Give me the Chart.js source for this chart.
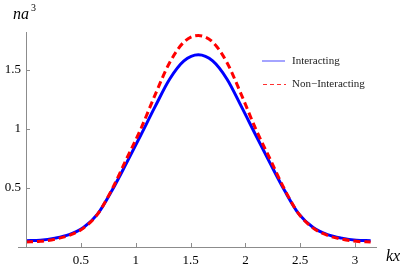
<!DOCTYPE html>
<html>
<head>
<meta charset="utf-8">
<script src="https://cdn.jsdelivr.net/npm/chart.js@4"></script>
<style>
  html, body { margin: 0; padding: 0; background: #fff; }
  #wrap { width: 403px; height: 269px; position: relative; }
</style>
</head>
<body>
<div id="wrap"><canvas id="chart" width="403" height="269"></canvas></div>
<script>
// kx sample positions (0 .. pi)
const kx = [0, 0.131, 0.262, 0.393, 0.524, 0.654, 0.785, 0.916, 1.047, 1.178, 1.309, 1.440, 1.571,
            1.702, 1.833, 1.963, 2.094, 2.225, 2.356, 2.487, 2.618, 2.749, 2.880, 3.011, 3.142];

// n a^3
const interacting = [0.053, 0.058, 0.075, 0.105, 0.165, 0.28, 0.48, 0.71, 0.948, 1.19, 1.42, 1.575, 1.627,
                     1.575, 1.42, 1.19, 0.948, 0.71, 0.48, 0.28, 0.165, 0.105, 0.075, 0.058, 0.053];
const nonInteracting = [0.042, 0.048, 0.066, 0.098, 0.16, 0.28, 0.49, 0.745, 1.0, 1.29, 1.56, 1.735, 1.79,
                        1.735, 1.56, 1.29, 1.0, 0.745, 0.49, 0.28, 0.16, 0.098, 0.066, 0.048, 0.042];

const xTicks = [0.5, 1, 1.5, 2, 2.5, 3];
const yTicks = [0.5, 1, 1.5];
const seriesNames = ['Interacting', 'Non\u2212Interacting'];

const serif = '"Liberation Serif", "DejaVu Serif", serif';
const toPts = ys => kx.map((x, i) => ({ x: x, y: ys[i] }));

// Mathematica-style axes, labels and legend
const axesPlugin = {
    id: 'axesPlugin',
    afterDraw(chart) {
        const ctx = chart.ctx;
        const xs = chart.scales.x, ys = chart.scales.y;
        const x0 = xs.getPixelForValue(0), y0 = ys.getPixelForValue(0);
        const top = chart.chartArea.top, right = chart.chartArea.right;
        ctx.save();
        ctx.strokeStyle = '#8c8c8c';
        ctx.lineWidth = 1;
        ctx.beginPath();
        ctx.moveTo(18, Math.round(y0) + 0.5); ctx.lineTo(right, Math.round(y0) + 0.5);
        ctx.moveTo(Math.round(x0) + 0.5, y0); ctx.lineTo(Math.round(x0) + 0.5, top);
        xTicks.forEach(v => {
            const p = Math.round(xs.getPixelForValue(v)) + 0.5;
            ctx.moveTo(p, y0); ctx.lineTo(p, y0 - 4);
        });
        yTicks.forEach(v => {
            const p = Math.round(ys.getPixelForValue(v)) + 0.5;
            ctx.moveTo(x0, p); ctx.lineTo(x0 + 4, p);
        });
        ctx.stroke();

        // axis labels
        ctx.fillStyle = '#000';
        ctx.textBaseline = 'alphabetic';
        ctx.font = 'italic 16px ' + serif;
        ctx.fillText('na', 13, 19);
        ctx.font = '10px ' + serif;
        ctx.fillText('3', 31, 11);
        ctx.font = 'italic 16px ' + serif;
        ctx.fillText('kx', 386, 261);

        // legend
        ctx.lineWidth = 2;
        ctx.strokeStyle = 'rgba(90,90,255,0.55)';
        ctx.beginPath(); ctx.moveTo(262, 61); ctx.lineTo(285, 61); ctx.stroke();
        ctx.lineWidth = 1;
        ctx.strokeStyle = '#ff3030';
        ctx.setLineDash([4, 3]);
        ctx.beginPath(); ctx.moveTo(263, 84.5); ctx.lineTo(286, 84.5); ctx.stroke();
        ctx.setLineDash([]);
        ctx.font = '11px ' + serif;
        ctx.textBaseline = 'middle';
        ctx.fillStyle = '#222';
        ctx.fillText(seriesNames[0], 292, 61);
        ctx.fillText(seriesNames[1], 292, 84);
        ctx.restore();
    }
};

new Chart(document.getElementById('chart'), {
    type: 'scatter',
    data: {
        datasets: [
            {
                label: seriesNames[0],
                data: toPts(interacting),
                showLine: true,
                borderColor: '#0000ff',
                borderWidth: 3,
                pointRadius: 0,
                cubicInterpolationMode: 'monotone',
                order: 1
            },
            {
                label: seriesNames[1],
                data: toPts(nonInteracting),
                showLine: true,
                borderColor: '#ff0000',
                borderWidth: 3,
                borderDash: [7, 4],
                pointRadius: 0,
                cubicInterpolationMode: 'monotone',
                order: 0
            }
        ]
    },
    options: {
        responsive: false,
        animation: false,
        layout: { padding: { top: 32, right: 26, left: 0, bottom: 0 } },
        plugins: { legend: { display: false }, tooltip: { enabled: false } },
        scales: {
            x: {
                type: 'linear', min: 0, max: 3.2,
                grid: { display: false, drawTicks: false, tickLength: 0 },
                border: { display: false },
                afterBuildTicks: s => { s.ticks = xTicks.map(v => ({ value: v })); },
                afterFit: s => { s.height = 22; },
                ticks: {
                    padding: 6, maxRotation: 0,
                    color: '#000',
                    font: { family: serif, size: 13 },
                    callback: v => String(v)
                }
            },
            y: {
                type: 'linear', min: 0, max: 1.82,
                grid: { display: false, drawTicks: false, tickLength: 0 },
                border: { display: false },
                afterBuildTicks: s => { s.ticks = yTicks.map(v => ({ value: v })); },
                afterFit: s => { s.width = 26; },
                ticks: {
                    padding: 5,
                    color: '#000',
                    font: { family: serif, size: 13 },
                    callback: v => String(v)
                }
            }
        }
    },
    plugins: [axesPlugin]
});
</script>
</body>
</html>
